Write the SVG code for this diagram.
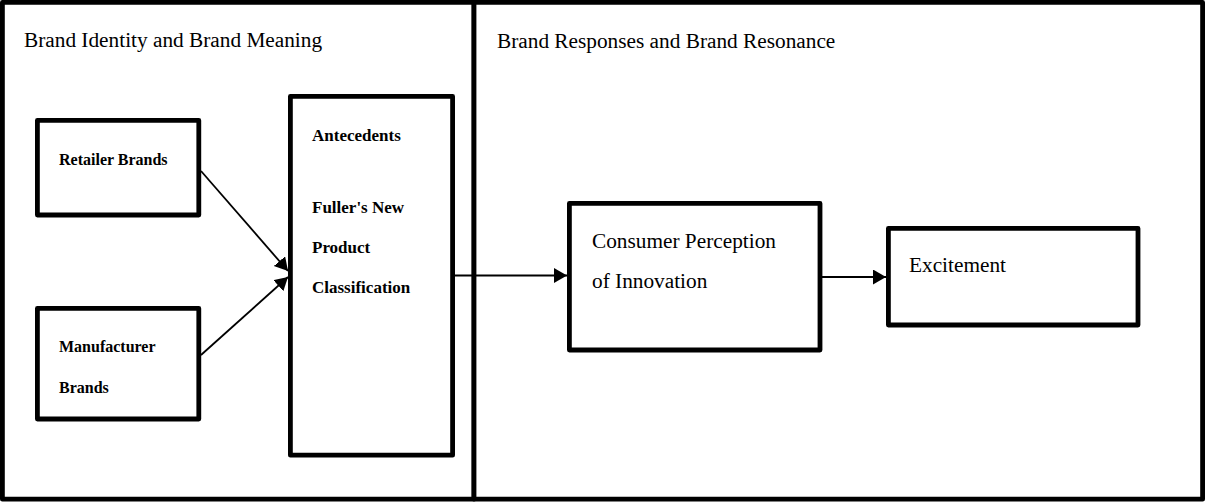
<svg xmlns="http://www.w3.org/2000/svg" width="1205" height="504" viewBox="0 0 1205 504">
<style>
.frame{fill:#fff;stroke:#000;stroke-width:4.8;stroke-linejoin:round}
.box{fill:#fff;stroke:#000;stroke-width:4.8;stroke-linejoin:round}
.reg{font-family:"Liberation Serif","Times New Roman",serif;font-size:21.3px;fill:#000}
.b16{font-family:"Liberation Serif","Times New Roman",serif;font-size:16px;font-weight:bold;fill:#000}
.b17{font-family:"Liberation Serif","Times New Roman",serif;font-size:17px;font-weight:bold;fill:#000}
.conn{stroke:#000;stroke-width:1.8;fill:none}
</style>
<defs>
<marker id="arr" markerUnits="userSpaceOnUse" markerWidth="14" markerHeight="16" refX="13" refY="7.5" orient="auto">
<path d="M0,0 L13,7.5 L0,15 z" fill="#000"/>
</marker>
</defs>
<rect width="1205" height="504" fill="#fff"/>
<g id="panel-left">
<rect class="frame" x="2.4" y="2.4" width="471.6" height="496.8"/>
<text class="reg" x="24" y="47">Brand Identity and Brand Meaning</text>
</g>
<g id="panel-right">
<rect class="frame" x="474" y="2.4" width="728.6" height="496.8"/>
<text class="reg" x="497" y="48">Brand Responses and Brand Resonance</text>
</g>
<g id="retailer">
<rect class="box" x="37.4" y="120.4" width="161.4" height="94.6"/>
<text class="b16" x="59" y="165">Retailer Brands</text>
</g>
<g id="manufacturer">
<rect class="box" x="37.4" y="308.4" width="161.4" height="110.6"/>
<text class="b16" x="59" y="352">Manufacturer</text>
<text class="b16" x="59" y="393">Brands</text>
</g>
<g id="antecedents">
<rect class="box" x="290.4" y="96.4" width="162.2" height="358.8"/>
<text class="b17" x="312" y="141">Antecedents</text>
<text class="b17" x="312" y="213">Fuller's New</text>
<text class="b17" x="312" y="253">Product</text>
<text class="b17" x="312" y="293">Classification</text>
</g>
<g id="consumer">
<rect class="box" x="569.4" y="203.4" width="250.6" height="146.6"/>
<text class="reg" x="592" y="248">Consumer Perception</text>
<text class="reg" x="592" y="288">of Innovation</text>
</g>
<g id="excitement">
<rect class="box" x="888.4" y="228.4" width="249.6" height="96.6"/>
<text class="reg" x="909" y="272">Excitement</text>
</g>
<g id="connectors">
<line class="conn" x1="201" y1="171" x2="288" y2="271" marker-end="url(#arr)"/>
<line class="conn" x1="201" y1="355" x2="288" y2="277" marker-end="url(#arr)"/>
<line class="conn" x1="455" y1="275.5" x2="567" y2="275.5" marker-end="url(#arr)"/>
<line class="conn" x1="822" y1="277" x2="886" y2="277" marker-end="url(#arr)"/>
</g>
</svg>
